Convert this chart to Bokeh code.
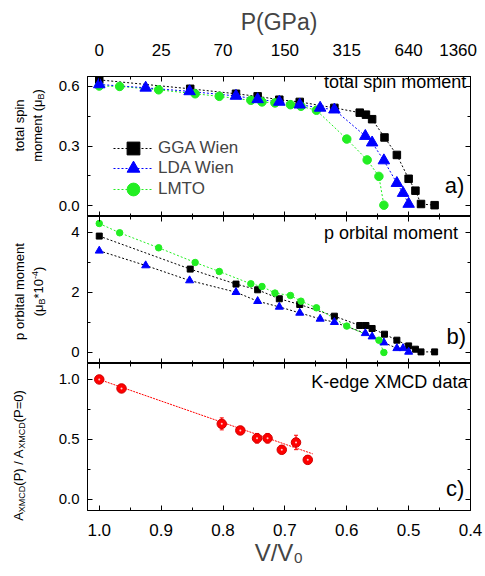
import numpy as np
from bokeh.plotting import figure
from bokeh.models import (LinearAxis, FixedTicker, NumeralTickFormatter, Range1d, Label,
                          Legend, LegendItem, Whisker, TeeHead, ColumnDataSource)
from bokeh.layouts import column, row
from bokeh.embed import file_html
from bokeh.resources import INLINE

FONT = "Liberation Sans"

# ---------------- data ----------------
x_major = [1.0, 0.9, 0.8, 0.7, 0.6, 0.5, 0.4]
x_minor = [0.95, 0.85, 0.75, 0.65, 0.55, 0.45]
p_labels = ["0", "25", "70", "150", "315", "640", "1360\u2002"]

gga_v = [1.0, 0.853, 0.779, 0.744, 0.709, 0.676, 0.620, 0.579, 0.569, 0.559, 0.539, 0.519, 0.500, 0.489, 0.480, 0.458]
gga_spin = [0.633, 0.588, 0.563, 0.550, 0.533, 0.522, 0.492, 0.468, 0.458, 0.435, 0.343, 0.255, 0.135, 0.075, 0.008, 0.002]
gga_orb = [3.88, 2.78, 2.28, 2.09, 1.79, 1.60, 1.21, 0.90, 0.90, 0.80, 0.61, 0.41, 0.22, 0.11, 0.02, 0.02]

lda_v = [1.0, 0.925, 0.854, 0.779, 0.744, 0.709, 0.676, 0.643, 0.620, 0.570, 0.559, 0.540, 0.519, 0.509, 0.500]
lda_spin = [0.610, 0.593, 0.575, 0.552, 0.535, 0.522, 0.508, 0.492, 0.483, 0.350, 0.317, 0.227, 0.113, 0.063, 0.008]
lda_orb = [3.39, 2.90, 2.40, 2.01, 1.71, 1.52, 1.32, 1.12, 1.01, 0.64, 0.53, 0.33, 0.14, 0.14, 0.02]

lmto_v = [1.0, 0.967, 0.904, 0.845, 0.806, 0.755, 0.737, 0.716, 0.691, 0.674, 0.649, 0.600, 0.567, 0.548, 0.540]
lmto_spin = [0.602, 0.600, 0.583, 0.563, 0.550, 0.530, 0.522, 0.517, 0.508, 0.500, 0.480, 0.335, 0.230, 0.147, 0.002]
lmto_orb_v = [1.0, 0.967, 0.904, 0.845, 0.806, 0.755, 0.737, 0.716, 0.691, 0.674, 0.649, 0.600, 0.548, 0.540]
lmto_orb = [4.30, 3.99, 3.49, 3.00, 2.70, 2.29, 2.20, 1.98, 1.90, 1.71, 1.49, 0.88, 0.41, 0.0]

xmcd_v = [1.0, 0.964, 0.802, 0.772, 0.745, 0.728, 0.705, 0.682, 0.663]
xmcd_a = [1.0, 0.925, 0.63, 0.575, 0.51, 0.51, 0.414, 0.475, 0.33]
xmcd_err = [0.02, 0.03, 0.05, 0.03, 0.04, 0.04, 0.03, 0.06, 0.03]
fit_v = [1.0, 0.655]
fit_a = [1.0, 0.38]

# ---------------- style ----------------
BLACK = "#000000"
BLUE = "#0000ff"
GREEN = "#22ee22"
RED = "#ff0000"

LAB_W = 50          # width of the strip holding the y-axis titles
FRAME_W = 383
LEFT = 37
RIGHT = 15
X_RANGE = (1.019, 0.4)
TOTAL_H = 573

W = {' ': .278, '(': .333, ')': .333, '/': .278, '=': .584, '*': .389, '.': .278, '-': .333,
     'A': .667, 'B': .667, 'C': .722, 'D': .722, 'M': .833, 'P': .667, 'X': .667,
     'a': .556, 'b': .556, 'e': .556, 'i': .222, 'l': .222, 'm': .833, 'n': .556, 'o': .556,
     'p': .556, 'r': .333, 's': .5, 't': .278, 'μ': .576}


def tw(s, size):
    return sum(W.get(c, .556) for c in s) * size


def make_fig(frame_h, yr, top=0):
    p = figure(frame_width=FRAME_W, frame_height=frame_h,
               x_range=Range1d(*X_RANGE), y_range=Range1d(*yr),
               output_backend="svg", toolbar_location=None,
               x_axis_location=None, y_axis_location=None,
               min_border_left=LEFT, min_border_right=RIGHT,
               min_border_top=top, min_border_bottom=0,
               background_fill_color="white", border_fill_color="white")
    p.grid.visible = False
    p.outline_line_color = "black"
    p.outline_line_width = 1
    return p


def axis(ticks, minor, show=False, fmt="0.0", size="15px", standoff=8):
    ax = LinearAxis(ticker=FixedTicker(ticks=ticks, minor_ticks=minor),
                    major_tick_in=5, major_tick_out=0, minor_tick_in=3, minor_tick_out=0,
                    axis_line_color="black", major_tick_line_color="black",
                    minor_tick_line_color="black",
                    formatter=NumeralTickFormatter(format=fmt))
    if show:
        ax.major_label_text_font = FONT
        ax.major_label_text_font_size = size
        ax.major_label_text_color = "black"
        ax.major_label_standoff = standoff
    else:
        ax.major_label_overrides = {t: "" for t in ticks}
        ax.major_label_text_font_size = "1px"
        ax.major_label_standoff = 0
    return ax


def tag(p, x, y, text, size):
    p.add_layout(Label(x=x, y=y, text=text, text_align="right", text_baseline="middle",
                       text_font=FONT, text_font_size=size, text_color="black"))


# ---------------- y-axis titles strip ----------------
lab = figure(frame_width=LAB_W, frame_height=TOTAL_H, x_range=Range1d(0, 1), y_range=Range1d(0, 1),
             output_backend="svg", toolbar_location=None, x_axis_location=None,
             y_axis_location=None, min_border=0, background_fill_color="white",
             border_fill_color="white")
lab.grid.visible = False
lab.outline_line_color = None


def vlabel(x, yc_page, segs):
    total = sum(tw(t, s) for t, s, dx in segs)
    y = (TOTAL_H - yc_page) - total / 2
    for t, s, dx in segs:
        lab.add_layout(Label(x=x + dx, y=y, x_units="screen", y_units="screen", text=t,
                             angle=np.pi / 2, text_align="left", text_baseline="middle",
                             text_font=FONT, text_font_size=f"{s}px", text_color="black"))
        y += tw(t, s)


vlabel(19, 125, [("total spin", 13, 0)])
vlabel(37, 125, [("moment (μ", 13, 0), ("B", 9, 3), (")", 13, 0)])
vlabel(19, 291, [("p orbital moment", 13, 0)])
vlabel(38, 291, [("(μ", 13, 0), ("B", 9, 3), ("*10", 13, 0), ("-4", 9, -4), (")", 13, 0)])
vlabel(18, 455, [("A", 13, 0), ("XMCD", 9, 3), ("(P) / A", 13, 0), ("XMCD", 9, 3), ("(P=0)", 13, 0)])

# ---------------- panel a ----------------
pa = make_fig(140, (-0.055, 0.65), top=76)
topax = axis(x_major, x_minor, show=True, size="17px", standoff=17)
topax.major_label_overrides = {v: l for v, l in zip(x_major, p_labels)}
topax.axis_label = "P(GPa)"
topax.axis_label_text_font = FONT
topax.axis_label_text_font_size = "23px"
topax.axis_label_text_font_style = "normal"
topax.axis_label_standoff = 3
pa.add_layout(topax, "above")
pa.add_layout(axis(x_major, x_minor), "below")
pa.add_layout(axis([0, 0.3, 0.6], [0.15, 0.45], show=True, fmt="0.0"), "left")
pa.add_layout(axis([0, 0.3, 0.6], [0.15, 0.45]), "right")

gl = pa.line(gga_v, gga_spin, line_color=BLACK, line_dash="2 2", line_width=1)
ml = pa.line(lmto_v, lmto_spin, line_color=GREEN, line_dash="2 2", line_width=1)
bl = pa.line(lda_v, lda_spin, line_color=BLUE, line_dash="2 2", line_width=1)
gs = pa.scatter(gga_v, gga_spin, marker="square", size=7.5, fill_color=BLACK, line_color=BLACK)
ms = pa.scatter(lmto_v, lmto_spin, marker="circle", size=8.5, fill_color=GREEN, line_color=GREEN)
bs = pa.scatter(lda_v, lda_spin, marker="triangle", size=11.5, fill_color=BLUE, line_color=BLUE)

for label, rends, ypos in [("GGA Wien", [gl, gs], 52), ("LDA Wien", [bl, bs], 32), ("LMTO", [ml, ms], 11)]:
    pa.add_layout(Legend(items=[LegendItem(label=label, renderers=rends)],
                         location=(26, ypos), glyph_width=40, glyph_height=32, spacing=0,
                         padding=0, margin=0, label_standoff=5, label_text_font=FONT,
                         label_text_font_size="17px", border_line_color=None,
                         background_fill_alpha=0))
tag(pa, 0.407, 0.62, "total spin moment", "18px")
tag(pa, 0.410, 0.10, "a)", "22px")

# ---------------- panel b ----------------
pb = make_fig(147, (-0.367, 4.533))
pb.add_layout(axis(x_major, x_minor), "above")
pb.add_layout(axis(x_major, x_minor), "below")
pb.add_layout(axis([0, 2, 4], [1, 3], show=True, fmt="0"), "left")
pb.add_layout(axis([0, 2, 4], [1, 3]), "right")

pb.line(gga_v, gga_orb, line_color=BLACK, line_dash="2 2", line_width=1)
pb.line(lda_v, lda_orb, line_color=BLACK, line_dash="2 2", line_width=1)
pb.line(lmto_orb_v, lmto_orb, line_color=GREEN, line_dash="2 2", line_width=1)
pb.scatter(gga_v, gga_orb, marker="square", size=6, fill_color=BLACK, line_color=BLACK)
pb.scatter(lda_v, lda_orb, marker="triangle", size=8, fill_color=BLUE, line_color=BLUE)
pb.scatter(lmto_orb_v, lmto_orb, marker="circle", size=6.5, fill_color=GREEN, line_color=GREEN)
tag(pb, 0.420, 3.98, "p orbital moment", "18px")
tag(pb, 0.407, 0.53, "b)", "22px")

# ---------------- panel c ----------------
pc = make_fig(147, (-0.092, 1.133))
pc.add_layout(axis(x_major, x_minor), "above")
bottom = axis(x_major, x_minor, show=True, size="17px", standoff=13)
bottom.axis_label = "V/V₀"
bottom.axis_label_text_font = FONT
bottom.axis_label_text_font_size = "24px"
bottom.axis_label_text_font_style = "normal"
bottom.axis_label_standoff = 0
pc.add_layout(bottom, "below")
pc.add_layout(axis([0, 0.5, 1.0], [0.25, 0.75], show=True, fmt="0.0"), "left")
pc.add_layout(axis([0, 0.5, 1.0], [0.25, 0.75]), "right")

src = ColumnDataSource(dict(v=xmcd_v, a=xmcd_a,
                            lo=[a - e for a, e in zip(xmcd_a, xmcd_err)],
                            hi=[a + e for a, e in zip(xmcd_a, xmcd_err)]))
pc.line(fit_v, fit_a, line_color=RED, line_dash="2 1", line_width=1)
pc.add_layout(Whisker(source=src, base="v", lower="lo", upper="hi", dimension="height",
                      line_color=RED, line_width=1.2,
                      upper_head=TeeHead(size=4, line_color=RED),
                      lower_head=TeeHead(size=4, line_color=RED)))
pc.scatter("v", "a", source=src, marker="circle", size=9.5, fill_color=RED, line_color="#d00000")
pc.scatter("v", "a", source=src, marker="circle", size=2, fill_color="white", line_color=None,
           fill_alpha=0.8)
tag(pc, 0.405, 0.975, "K-edge XMCD data", "18px")
tag(pc, 0.410, 0.09, "c)", "22px")

layout = row(lab, column(pa, pb, pc, spacing=0), spacing=0)
open("out.html", "w").write(file_html(layout, INLINE))
